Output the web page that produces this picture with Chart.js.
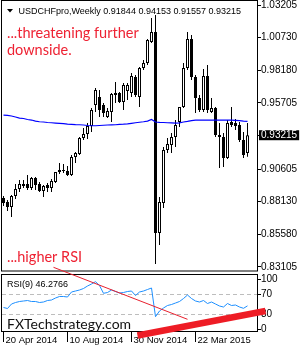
<!DOCTYPE html>
<html><head><meta charset="utf-8">
<script src="https://cdn.jsdelivr.net/npm/chart.js@4.4.1/dist/chart.umd.min.js"></script>
<style>html,body{margin:0;padding:0;background:#fff;overflow:hidden}canvas{display:block}</style>
</head><body>
<canvas id="c" width="300" height="350"></canvas>
<script>
const symbol = 'USDCHFpro,Weekly';
const weeks = ['20 Apr 2014','27 Apr 2014','4 May 2014','11 May 2014','18 May 2014','25 May 2014','1 Jun 2014','8 Jun 2014','15 Jun 2014','22 Jun 2014','29 Jun 2014','6 Jul 2014','13 Jul 2014','20 Jul 2014','27 Jul 2014','3 Aug 2014','10 Aug 2014','17 Aug 2014','24 Aug 2014','31 Aug 2014','7 Sep 2014','14 Sep 2014','21 Sep 2014','28 Sep 2014','5 Oct 2014','12 Oct 2014','19 Oct 2014','26 Oct 2014','2 Nov 2014','9 Nov 2014','16 Nov 2014','23 Nov 2014','30 Nov 2014','7 Dec 2014','14 Dec 2014','21 Dec 2014','28 Dec 2014','4 Jan 2015','11 Jan 2015','18 Jan 2015','25 Jan 2015','1 Feb 2015','8 Feb 2015','15 Feb 2015','22 Feb 2015','1 Mar 2015','8 Mar 2015','15 Mar 2015','22 Mar 2015','29 Mar 2015','5 Apr 2015','12 Apr 2015','19 Apr 2015','26 Apr 2015','3 May 2015','10 May 2015','17 May 2015','24 May 2015','31 May 2015','7 Jun 2015','14 Jun 2015','21 Jun 2015'];
const xTickLabels = ['20 Apr 2014','10 Aug 2014','30 Nov 2014','22 Mar 2015'];

const open = [0.8839,0.8809,0.8770,0.8855,0.8908,0.8931,0.8947,0.8916,0.8993,0.8947,
 0.8893,0.8939,0.8916,0.8962,0.9039,0.9047,0.9047,0.9016,0.9154,0.9177,
 0.9300,0.9331,0.9392,0.9553,0.9615,0.9553,0.9461,0.9499,0.9645,0.9645,
 0.9576,0.9661,0.9645,0.9768,0.9615,0.9837,0.9875,1.0037,1.0113,0.8571,
 0.8801,0.9208,0.9246,0.9308,0.9423,0.9538,0.9837,1.0060,0.9768,0.9607,
 0.9515,0.9776,0.9499,0.9530,0.9323,0.9308,0.9146,0.9423,0.9415,0.9400,
 0.9285,0.91844];
const high = [0.8855,0.8824,0.8862,0.8947,0.8978,0.8978,0.9016,0.9001,0.9001,0.8962,
 0.8939,0.8955,0.8985,0.9039,0.9108,0.9100,0.9085,0.9169,0.9192,0.9308,
 0.9377,0.9415,0.9530,0.9684,0.9668,0.9569,0.9530,0.9645,0.9730,0.9653,
 0.9722,0.9722,0.9799,0.9783,0.9845,0.9899,1.0060,1.0221,1.0244,0.8847,
 0.9231,0.9300,0.9338,0.9438,0.9538,0.9875,1.0113,1.0090,0.9783,0.9630,
 0.9829,0.9860,0.9607,0.9538,0.9415,0.9338,0.9438,0.9538,0.9446,0.9423,
 0.9346,0.94153];
const low = [0.8778,0.8740,0.8694,0.8832,0.8885,0.8916,0.8901,0.8901,0.8901,0.8885,
 0.8847,0.8885,0.8885,0.8955,0.9024,0.9031,0.9008,0.9008,0.9108,0.9169,
 0.9285,0.9292,0.9346,0.9499,0.9461,0.9461,0.9453,0.9423,0.9569,0.9569,
 0.9515,0.9592,0.9615,0.9615,0.9538,0.9822,0.9860,1.0029,0.8333,0.8479,
 0.8763,0.9185,0.9185,0.9231,0.9384,0.9530,0.9822,0.9745,0.9492,0.9499,
 0.9499,0.9492,0.9492,0.9308,0.9070,0.9077,0.9139,0.9384,0.9361,0.9269,
 0.9146,0.91557];
const close = [0.8801,0.8770,0.8855,0.8908,0.8947,0.8947,0.8916,0.8993,0.8939,0.8893,
 0.8931,0.8916,0.8970,0.9039,0.9054,0.9054,0.9016,0.9154,0.9185,0.9300,
 0.9331,0.9392,0.9515,0.9668,0.9515,0.9492,0.9507,0.9638,0.9630,0.9576,
 0.9707,0.9707,0.9776,0.9630,0.9837,0.9875,1.0052,1.0113,0.8571,0.8809,
 0.9208,0.9254,0.9308,0.9400,0.9538,0.9837,1.0060,0.9768,0.9607,0.9515,
 0.9776,0.9515,0.9530,0.9323,0.9308,0.9146,0.9415,0.9400,0.9392,0.9285,
 0.9169,0.93215];
const ma = [0.9476,0.9473,0.9469,0.9461,0.9453,0.9450,0.9442,0.9438,0.9430,0.9425,
 0.9423,0.9419,0.9417,0.9415,0.9413,0.9410,0.9407,0.9405,0.9403,0.9402,
 0.9400,0.9396,0.9394,0.9394,0.9396,0.9398,0.9400,0.9401,0.9402,0.9404,
 0.9406,0.9409,0.9413,0.9417,0.9421,0.9425,0.9430,0.9442,0.9423,0.9420,
 0.9419,0.9417,0.9416,0.9415,0.9416,0.9423,0.9428,0.9434,0.9438,0.9438,
 0.9438,0.9438,0.9438,0.9438,0.9438,0.9438,0.9438,0.9438,0.9436,0.9433,
 0.9430,0.9428];
const rsi = [43,41,50,53,55,56,57,55,55,53,
 54,57,58,62,65,65,64,74,76,78,
 81,86,90,94.6,87,71.4,73,78,75,72,
 73,75,76,67,74,76,79,82,24.6,36,
 42,47,49,52,55,61,68,61,56,54,
 57,51,54,50,46,44,51,47,48,44,
 41.4,46.2766];
const priceTicks = [1.03205,1.00730,0.98180,0.95705,0.93215,0.90605,0.88130,0.85580,0.83105];
const rsiTicks = [100,70,30,0];
const rsiLevels = [70,30];
const rsiTrendX = [12.5,46], rsiTrendY = [123.4,19.4];
const rsiSupportX = [33.5,65.5], rsiSupportY = [-13,36];
const notes = ['...threatening further','downside.','...higher RSI'];
const watermark = 'FXTechstrategy.com';

const FONT = "'Liberation Sans', Arial, sans-serif";
const last = close.length - 1;
const lastClose = close[last];
const idx = weeks.map((_, i) => i);
const pts = (xs, ys) => xs.map((x, i) => ({x, y: ys[i]}));
const noPad = s => { s.paddingTop = 0; s.paddingBottom = 0; s.paddingLeft = 0; s.paddingRight = 0; };

const deco = {
  id: 'deco',
  beforeDraw(chart) {
    const {ctx, width, height} = chart;
    ctx.save(); ctx.fillStyle = '#fff'; ctx.fillRect(0, 0, width, height); ctx.restore();
  },
  beforeDatasetsDraw(chart) {
    const {ctx, chartArea: a, scales} = chart;
    const mainBottom = Math.round(scales.y.bottom) - 2;
    const rsiTop = Math.round(scales.rsi.top) + 2;
    ctx.save(); ctx.strokeStyle = '#000'; ctx.lineWidth = 1;
    ctx.strokeRect(a.left - 0.5, 0.5, a.right - a.left, mainBottom - 0.5);
    ctx.strokeRect(a.left - 0.5, rsiTop - 0.5, a.right - a.left, Math.round(a.bottom) - rsiTop);
    ctx.restore();
  },
  afterDraw(chart) {
    const {ctx} = chart;
    ctx.save();
    ctx.fillStyle = '#000';
    ctx.beginPath(); ctx.moveTo(7, 9); ctx.lineTo(13, 9); ctx.lineTo(10, 12.5); ctx.closePath(); ctx.fill();
    ctx.font = '9px ' + FONT;
    ctx.textBaseline = 'alphabetic';
    ctx.fillText(symbol + ' ' + [open[last], high[last], low[last], close[last]].map(v => v.toFixed(5)).join(' '), 18.5, 14);
    ctx.fillText('RSI(9) ' + rsi[last].toFixed(4), 7, 286.5);
    ctx.fillStyle = '#EE2233';
    ctx.font = '14.5px Lato';
    ctx.fillText(notes[0], 7, 37.5);
    ctx.fillText(notes[1], 7, 55);
    ctx.fillText(notes[2], 7, 262);
    ctx.fillStyle = '#111';
    ctx.font = '14px Lato';
    ctx.fillText(watermark, 7, 328.5);
    ctx.restore();
  }
};

Chart.defaults.font.family = FONT;
new Chart(document.getElementById('c'), {
  type: 'bar',
  data: {
    datasets: [
      {type: 'line', data: pts(rsiSupportX, rsiSupportY), yAxisID: 'rsi', borderColor: '#EE1C25', borderWidth: 6.5, pointRadius: 0, clip: false, order: 0, borderCapStyle: 'butt'},
      {type: 'line', data: pts(rsiTrendX, rsiTrendY), yAxisID: 'rsi', borderColor: '#E8202E', borderWidth: 1, pointRadius: 0, clip: false, order: 1},
      {type: 'line', data: pts(idx, ma), yAxisID: 'y', borderColor: '#0000FF', borderWidth: 1.2, pointRadius: 0, order: 2},
      {type: 'line', data: pts(idx, rsi), yAxisID: 'rsi', borderColor: '#1E90FF', borderWidth: 1, pointRadius: 0, order: 3},
      {type: 'bar', data: idx.map(i => ({x: i, y: [open[i], close[i]]})), yAxisID: 'y', barThickness: 3,
        backgroundColor: idx.map(i => close[i] >= open[i] ? '#fff' : '#000'), borderColor: '#000', borderWidth: 1,
        borderSkipped: false, grouped: false, inflateAmount: 0, order: 4},
      {type: 'bar', data: idx.map(i => ({x: i, y: [low[i], high[i]]})), yAxisID: 'y', barThickness: 1,
        backgroundColor: '#000', borderWidth: 0, grouped: false, inflateAmount: 0, order: 5}
    ]
  },
  options: {
    responsive: false, animation: false, devicePixelRatio: 1,
    layout: {padding: {top: 1, left: 2, right: 0, bottom: 0}},
    plugins: {legend: {display: false}, tooltip: {enabled: false}},
    scales: {
      x: {
        type: 'linear', min: -0.375, max: 63.625, offset: false, position: 'bottom',
        afterBuildTicks: s => { s.ticks = xTickLabels.map(l => ({value: weeks.indexOf(l)})); },
        afterFit: s => { s.height = 18; noPad(s); },
        ticks: {callback: v => weeks[v], autoSkip: false, maxRotation: 0, align: 'start', labelOffset: 2, padding: -7, color: '#000', font: {size: 9.5}},
        grid: {display: true, offset: false, drawOnChartArea: false, drawTicks: true, tickLength: 10, tickColor: '#000', color: '#000'},
        border: {display: false}
      },
      y: {
        type: 'linear', position: 'right', stack: 'panes', stackWeight: 271.5, min: 0.82683, max: 1.03512,
        afterBuildTicks: s => { s.ticks = priceTicks.map(v => ({value: v})); },
        afterFit: s => { s.width = 42; noPad(s); },
        ticks: {
          callback: v => v.toFixed(5), padding: 0, font: {size: 10}, autoSkip: false,
          color: c => c.tick && c.tick.value === lastClose ? '#fff' : '#000',
          showLabelBackdrop: c => !!(c.tick && c.tick.value === lastClose),
          backdropColor: '#000', backdropPadding: {top: -1, bottom: -1, left: 2, right: 2}
        },
        grid: {drawOnChartArea: false, drawTicks: true, tickLength: 3, tickColor: '#000'},
        border: {display: false}
      },
      rsi: {
        type: 'linear', position: 'right', stack: 'panes', stackWeight: 59.5, min: -6, max: 113,
        afterBuildTicks: s => { s.ticks = rsiTicks.map(v => ({value: v})); },
        afterFit: s => { s.width = 42; noPad(s); },
        ticks: {callback: v => String(v), padding: 0, color: '#000', font: {size: 10}, autoSkip: false},
        grid: {drawOnChartArea: true, drawTicks: true, tickLength: 3, tickColor: '#000',
          color: c => c.tick && rsiLevels.includes(c.tick.value) ? '#BDBDBD' : 'rgba(0,0,0,0)'},
        border: {display: false, dash: [4, 3]}
      }
    }
  },
  plugins: [deco]
});
</script>
</body></html>
